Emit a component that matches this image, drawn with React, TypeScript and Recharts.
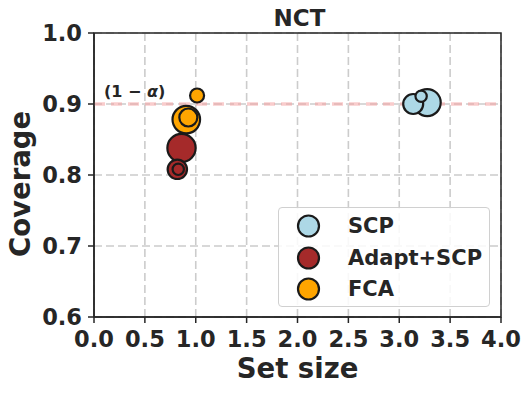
import React from 'react';
import {
  ScatterChart,
  Scatter,
  XAxis,
  YAxis,
  ZAxis,
  CartesianGrid,
  ReferenceLine,
  ReferenceArea,
} from 'recharts';

// values (z = relative marker area)
const scpX = [3.275, 3.137, 3.215];
const scpY = [0.902, 0.9, 0.911];
const scpZ = [182, 100, 32];

const adaptX = [0.86, 0.819, 0.828];
const adaptY = [0.838, 0.808, 0.808];
const adaptZ = [200, 94, 32];

const fcaX = [0.907, 0.927, 1.013];
const fcaY = [0.878, 0.881, 0.912];
const fcaZ = [190, 81, 49];

const xTicks = [0, 0.5, 1, 1.5, 2, 2.5, 3, 3.5, 4];
const yTicks = [0.6, 0.7, 0.8, 0.9, 1.0];
const targetCoverage = 0.9;

const seriesNames = ['SCP', 'Adapt+SCP', 'FCA'];
const seriesColors = ['#add8e6', '#a52a2a', '#ffa500'];

const FONT = "'DejaVu Sans', sans-serif";
const INK = '#262626';

const toPoints = (xs: number[], ys: number[], zs: number[]) =>
  xs.map((x, i) => ({ x, y: ys[i], z: zs[i] }));

const Bubble = (props: any) => {
  const { cx, cy, width, fill } = props;
  return <circle cx={cx} cy={cy} r={width / 2} fill={fill} stroke="#1a1a1a" strokeWidth={2.2} />;
};

// legend drawn as an overlay so it does not shrink the plot area
const LegendBox = () => (
  <div
    style={{
      position: 'absolute',
      left: 278,
      top: 207,
      width: 212,
      height: 100,
      boxSizing: 'border-box',
      border: '1px solid #d0d0d0',
      borderRadius: 4,
      background: 'rgba(255,255,255,0.85)',
      fontFamily: FONT,
      fontWeight: 'bold',
      fontSize: 21,
      color: INK,
    }}
  >
    {seriesNames.map((name, i) => (
      <div key={name} style={{ position: 'absolute', left: 0, top: 5 + i * 31.5, height: 26, display: 'flex', alignItems: 'center' }}>
        <svg width={60} height={26} style={{ display: 'block' }}>
          <circle cx={29.5} cy={13} r={10.5} fill={seriesColors[i]} stroke="#1a1a1a" strokeWidth={2.2} />
        </svg>
        <span style={{ marginLeft: 9, lineHeight: '26px', whiteSpace: 'nowrap' }}>{name}</span>
      </div>
    ))}
  </div>
);

export default function App() {
  const tickStyle = { fill: INK, fontFamily: FONT, fontWeight: 'bold', fontSize: 22.5 };
  return (
    <div style={{ position: 'absolute', left: 0, top: 0, width: 531, height: 393, background: '#fff' }}>
      <div
        style={{
          position: 'absolute',
          left: 96,
          width: 407,
          top: 5,
          textAlign: 'center',
          fontFamily: FONT,
          fontWeight: 'bold',
          fontSize: 23,
          lineHeight: '26px',
          color: INK,
        }}
      >
        NCT
      </div>
      <ScatterChart width={531} height={393} margin={{ top: 33, right: 30, bottom: 0, left: 0 }}>
        <CartesianGrid stroke="#cccccc" strokeWidth={1.6} strokeDasharray="8 4" />
        <XAxis
          type="number"
          dataKey="x"
          domain={[0, 4]}
          ticks={xTicks}
          interval={0}
          tickFormatter={(v: number) => v.toFixed(1)}
          tick={tickStyle}
          height={76}
          tickSize={6}
          tickMargin={8}
          stroke={INK}
          strokeWidth={1.5}
          allowDataOverflow
          label={{
            content: (p: any) => (
              <text
                x={p.viewBox.x + p.viewBox.width / 2}
                y={378}
                textAnchor="middle"
                fill={INK}
                fontFamily={FONT}
                fontWeight="bold"
                fontSize={27.5}
              >
                Set size
              </text>
            ),
          }}
        />
        <YAxis
          type="number"
          dataKey="y"
          domain={[0.6, 1.0]}
          ticks={yTicks}
          interval={0}
          tickFormatter={(v: number) => v.toFixed(1)}
          tick={tickStyle}
          width={94}
          tickSize={6}
          tickMargin={6}
          stroke={INK}
          strokeWidth={1.5}
          allowDataOverflow
          label={{
            content: () => (
              <text
                x={29.5}
                y={257}
                transform="rotate(-90 29.5 257)"
                textAnchor="start"
                fill={INK}
                fontFamily={FONT}
                fontWeight="bold"
                fontSize={27.5}
              >
                Coverage
              </text>
            ),
          }}
        />
        <ZAxis type="number" dataKey="z" domain={[0, 200]} range={[0, 200 * Math.PI]} />
        <ReferenceLine
          y={targetCoverage}
          stroke="#f4a3a3"
          strokeOpacity={0.55}
          strokeWidth={3.5}
          strokeDasharray="11 6"
          label={{
            content: (p: any) => (
              <text
                x={p.viewBox.x + 10}
                y={p.viewBox.y - 7}
                fill={INK}
                fontFamily={FONT}
                fontWeight="bold"
                fontSize={16}
              >
                (1 − <tspan fontStyle="italic">α</tspan>)
              </text>
            ),
          }}
        />
        <ReferenceArea x1={0} x2={4} y1={0.6} y2={1.0} fill="none" stroke={INK} strokeWidth={1.5} />
        <Scatter name={seriesNames[0]} data={toPoints(scpX, scpY, scpZ)} fill={seriesColors[0]} shape={Bubble} isAnimationActive={false} />
        <Scatter name={seriesNames[1]} data={toPoints(adaptX, adaptY, adaptZ)} fill={seriesColors[1]} shape={Bubble} isAnimationActive={false} />
        <Scatter name={seriesNames[2]} data={toPoints(fcaX, fcaY, fcaZ)} fill={seriesColors[2]} shape={Bubble} isAnimationActive={false} />
      </ScatterChart>
      <LegendBox />
    </div>
  );
}
